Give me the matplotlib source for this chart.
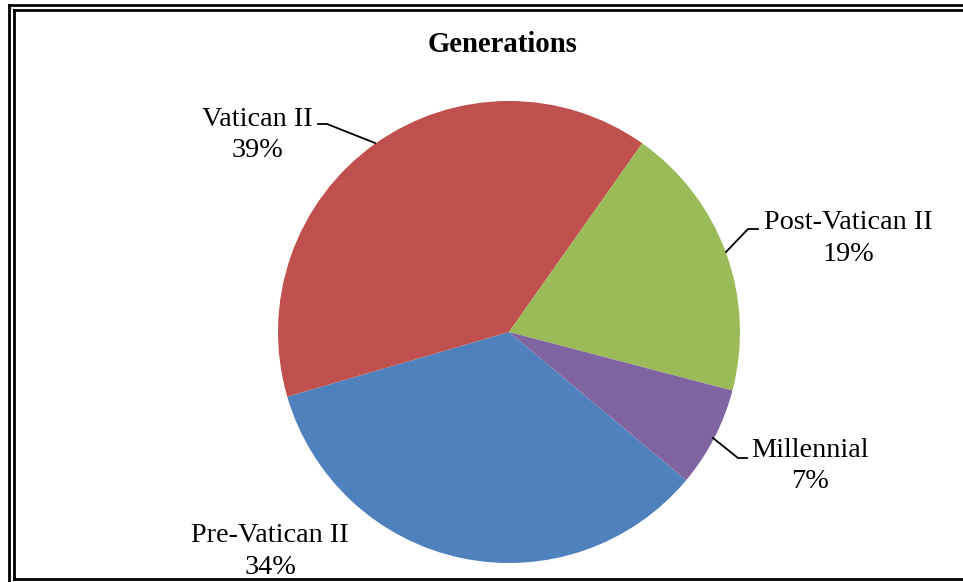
import matplotlib.pyplot as plt
from matplotlib.lines import Line2D

# -----------------------Data-----------------------
categories = ['Pre-Vatican II', 'Vatican II', 'Post-Vatican II', 'Millennial']
shares = [34.4, 39.3, 19.3, 7.0]
pct_labels = ['34%', '39%', '19%', '7%']

# -----------------------Fig configuration-----------------------
plt.rcParams['font.family'] = ['Liberation Serif', 'DejaVu Serif']
W, H = 963, 582
fig = plt.figure(figsize=(W / 100, H / 100), dpi=100)
colors = ['#4F81BD', '#C0504D', '#9BBB59', '#8064A2']
label_size = 20.3
title_size = 20.7

# pie centre and radius in pixels
cx, cy, r = 509, 332, 231
ax = fig.add_axes([(cx - r) / W, (H - cy - r) / H, 2 * r / W, 2 * r / H])

ax.pie(shares, colors=colors, startangle=-39.9, counterclock=False,
       radius=1, wedgeprops=dict(linewidth=0))
ax.set_xlim(-1, 1)
ax.set_ylim(-1, 1)
ax.set_aspect('equal')
ax.axis('off')


def px(x, y):
    # pixel position -> data coords of pie axes
    return (x - cx) / r, (cy - y) / r


# label positions (pixel centre x, baseline y of the two lines)
label_pos = {
    'Pre-Vatican II': (270, 542, 574),
    'Vatican II': (257, 126, 157),
    'Post-Vatican II': (848, 229, 261),
    'Millennial': (810, 457, 488),
}
leaders = {
    'Vatican II': [(375, 143), (327, 124), (318, 124)],
    'Post-Vatican II': [(726, 252), (748, 229), (758, 229)],
    'Millennial': [(713, 438), (738, 458), (747, 458)],
}

for name, pct in zip(categories, pct_labels):
    x, y1, y2 = label_pos[name]
    ax.text(*px(x, y1), name, ha='center', va='baseline', fontsize=label_size)
    ax.text(*px(x, y2), pct, ha='center', va='baseline', fontsize=label_size)
    if name in leaders:
        pts = [px(a, b) for a, b in leaders[name]]
        ax.plot([p[0] for p in pts], [p[1] for p in pts], color='black',
                linewidth=1.3, clip_on=False)

fig.text(503 / W, 1 - 52 / H, 'Generations', ha='center', va='baseline',
         fontsize=title_size, fontweight='bold')

# double frame around the chart
def fline(x0, y0, x1, y1, c='black', lw=2):
    fig.add_artist(Line2D([x0 / W, x1 / W], [1 - y0 / H, 1 - y1 / H],
                          transform=fig.transFigure, color=c, linewidth=lw))

fline(9, 5, W, 5)
fline(9, 5, 9, H)
fline(14, 10, W, 10)
fline(14, 10, 14, 579)
fline(14, 579, W, 579)

plt.savefig('out.png', dpi=100)
